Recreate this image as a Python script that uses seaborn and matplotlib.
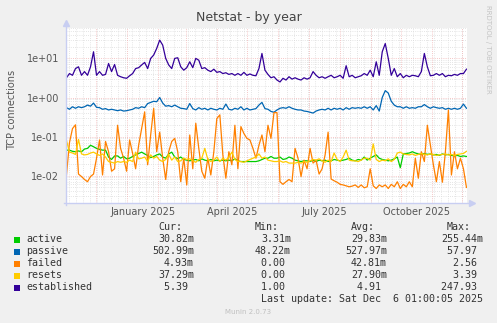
import numpy as np
import pandas as pd
import matplotlib
matplotlib.use('Agg')
import matplotlib.pyplot as plt
from matplotlib.patches import Rectangle
from matplotlib.lines import Line2D
from matplotlib.ticker import FixedLocator, LogLocator, NullFormatter
import seaborn as sns

# ---------------- data ----------------
dates = pd.date_range('2024-11-01 12:00', periods=134, freq='3D')

established = [3.2, 4.1, 3.7, 5.5, 6.1, 3.7, 4.6, 3.7, 6.1, 14.8, 3.7, 4.6, 3.7, 3.9, 7.4,
               4.6, 7.0, 3.7, 3.4, 3.2, 3.1, 3.6, 4.1, 5.5, 5.8, 6.8, 7.9, 5.5, 10.0, 12.2,
               18.0, 29.4, 21.9, 10.0,
               6.8, 5.5, 10.0, 10.4, 6.1, 5.0, 5.8, 8.2, 5.8, 10.0, 9.0, 5.5, 5.8, 5.0, 4.6,
               5.3, 4.4, 4.6, 4.1, 4.3, 3.9, 4.1, 3.7, 4.1, 3.7, 4.4, 3.7, 4.0, 3.7, 3.6,
               5.5, 13.4, 5.0,
               3.9, 3.2, 3.4, 2.8, 2.5, 3.1, 2.8, 3.4, 2.95, 3.2, 2.95, 2.8, 3.2, 2.95, 3.2,
               4.6, 3.7, 3.2, 3.4, 3.1, 3.4, 3.7, 3.2, 3.4, 3.7, 3.1, 6.5, 3.4, 3.7, 3.2,
               3.4, 3.6, 4.1,
               3.7, 5.0, 3.4, 8.2, 3.7, 14.8, 24.0, 10.0, 3.7, 5.5, 3.4, 4.1, 3.2, 3.7, 3.4,
               3.7, 3.6, 3.4, 4.6, 13.4, 6.1, 3.6, 3.7, 4.1, 3.7, 4.1, 3.4, 3.7, 3.6, 3.9,
               3.7, 4.1, 4.1, 5.3]

passive = [0.55, 0.5, 0.58, 0.53, 0.58, 0.55, 0.58, 0.64, 0.6, 0.72, 0.56, 0.55, 0.5, 0.52, 0.48,
           0.5, 0.48, 0.46, 0.48, 0.45, 0.46, 0.48, 0.5, 0.55, 0.53, 0.58, 0.55, 0.7, 0.75, 0.8,
           0.78, 1.0, 0.72, 0.6,
           0.62, 0.58, 0.64, 0.58, 0.53, 0.52, 0.5, 0.7, 0.52, 0.48, 0.55, 0.5, 0.53, 0.48, 0.53,
           0.5, 0.48, 0.53, 0.5, 0.68, 0.5, 0.48, 0.53, 0.5, 0.58, 0.48, 0.53, 0.48, 0.5, 0.52,
           0.64, 0.75, 0.52,
           0.5, 0.44, 0.42, 0.48, 0.53, 0.55, 0.53, 0.58, 0.53, 0.5, 0.48, 0.48, 0.45, 0.44, 0.42,
           0.4, 0.45, 0.48, 0.5, 0.48, 0.53, 0.48, 0.53, 0.5, 0.53, 0.48, 0.55, 0.5, 0.55, 0.53,
           0.55, 0.53, 0.58,
           0.53, 0.58, 0.48, 0.62, 0.45, 1.0, 1.5, 1.3, 0.8, 0.64, 0.58, 0.58, 0.53, 0.58, 0.53,
           0.55, 0.53, 0.58, 0.58, 0.66, 0.58, 0.53, 0.58, 0.55, 0.53, 0.55, 0.5, 0.53, 0.5, 0.53,
           0.5, 0.53, 0.68, 0.53]

active = [0.045, 0.045, 0.042, 0.041, 0.043, 0.041, 0.048, 0.05, 0.06, 0.055, 0.05, 0.047, 0.045,
          0.045, 0.03, 0.026, 0.032, 0.032, 0.028, 0.031, 0.027, 0.028, 0.031, 0.034, 0.037,
          0.04, 0.036, 0.033, 0.029, 0.031, 0.034, 0.036, 0.03, 0.028,
          0.036, 0.04, 0.03, 0.027, 0.03, 0.026, 0.025, 0.024, 0.025, 0.026, 0.024, 0.027, 0.025,
          0.024, 0.026, 0.024, 0.025, 0.024, 0.025, 0.024, 0.025, 0.024, 0.027, 0.024, 0.023,
          0.023, 0.023, 0.023, 0.023, 0.023, 0.024, 0.026, 0.028,
          0.028, 0.031, 0.028, 0.028, 0.03, 0.026, 0.027, 0.03, 0.028, 0.025, 0.024, 0.023, 0.024,
          0.024, 0.023, 0.025, 0.023, 0.025, 0.024, 0.025, 0.023, 0.024, 0.026, 0.025, 0.024,
          0.025, 0.026, 0.028, 0.025, 0.024, 0.026, 0.025, 0.03,
          0.025, 0.028, 0.031, 0.034, 0.028, 0.026, 0.025, 0.024, 0.025, 0.027, 0.03, 0.016,
          0.036, 0.037, 0.038, 0.041, 0.038, 0.036, 0.035, 0.037, 0.035, 0.036, 0.034, 0.035,
          0.033, 0.036, 0.034, 0.035, 0.033, 0.032, 0.033, 0.031, 0.032, 0.031]

resets = [0.08, 0.04, 0.038, 0.035, 0.085, 0.036, 0.034, 0.035, 0.038, 0.04, 0.036, 0.033, 0.036,
          0.03, 0.023, 0.022, 0.021, 0.023, 0.022, 0.023, 0.022, 0.025, 0.023, 0.04, 0.027,
          0.028, 0.03, 0.023, 0.034, 0.028, 0.031, 0.025, 0.023, 0.026,
          0.035, 0.025, 0.03, 0.023, 0.024, 0.028, 0.026, 0.027, 0.024, 0.022, 0.026, 0.028, 0.05,
          0.026, 0.023, 0.025, 0.03, 0.023, 0.028, 0.025, 0.03, 0.04, 0.026, 0.023, 0.023,
          0.022, 0.024, 0.026, 0.028, 0.03, 0.036, 0.028, 0.03,
          0.025, 0.024, 0.023, 0.023, 0.024, 0.022, 0.023, 0.021, 0.021, 0.021, 0.022, 0.021,
          0.023, 0.022, 0.024, 0.026, 0.025, 0.027, 0.024, 0.022, 0.025, 0.023, 0.038, 0.026,
          0.023, 0.03, 0.045, 0.025, 0.024, 0.024, 0.023, 0.025, 0.028,
          0.028, 0.025, 0.065, 0.026, 0.023, 0.025, 0.024, 0.027, 0.023, 0.026, 0.038, 0.04,
          0.036, 0.035, 0.034, 0.036, 0.033, 0.035, 0.037, 0.035, 0.034, 0.036, 0.035, 0.033,
          0.034, 0.035, 0.036, 0.034, 0.035, 0.033, 0.035, 0.036, 0.037, 0.042]

failed = [0.0104, 0.07, 0.16, 0.2, 0.011, 0.0095, 0.008, 0.007, 0.0095, 0.011, 0.028, 0.082,
          0.0104, 0.075, 0.041, 0.013, 0.015, 0.195, 0.05, 0.028, 0.013, 0.082, 0.037, 0.015,
          0.06, 0.16, 0.43, 0.019, 0.11, 0.53, 0.041, 0.13, 0.028, 0.008,
          0.041, 0.075, 0.09, 0.041, 0.007, 0.028, 0.0058, 0.11, 0.015, 0.22, 0.05, 0.013,
          0.0086, 0.028, 0.0104, 0.041, 0.29, 0.36, 0.034, 0.0086, 0.041, 0.019, 0.195, 0.015,
          0.18, 0.12, 0.09, 0.082, 0.05, 0.028, 0.06, 0.11, 0.041,
          0.195, 0.09, 0.41, 0.41, 0.007, 0.006, 0.007, 0.008, 0.007, 0.05, 0.028, 0.0095,
          0.025, 0.015, 0.05, 0.021, 0.025, 0.011, 0.015, 0.034, 0.13, 0.0082, 0.0074, 0.0068,
          0.006, 0.0058, 0.0055, 0.0052, 0.0054, 0.0058, 0.005, 0.0058, 0.0049,
          0.0052, 0.015, 0.0055, 0.0047, 0.0058, 0.0052, 0.0058, 0.0047, 0.006, 0.0052, 0.007,
          0.0047, 0.006, 0.0052, 0.007, 0.0052, 0.028, 0.0086, 0.041, 0.023, 0.195, 0.06,
          0.019, 0.007, 0.023, 0.0068, 0.041, 0.48, 0.0104, 0.041, 0.015, 0.028, 0.015, 0.005]

series_names = ['active', 'passive', 'failed', 'resets', 'established']
series_colors = ['#00CC00', '#0066B3', '#FF8000', '#FFCC00', '#330099']
cur_vals = ['30.82m', '502.99m', '4.93m', '37.29m', '5.39 ']
min_vals = ['3.31m', '48.22m', '0.00 ', '0.00 ', '1.00 ']
avg_vals = ['29.83m', '527.97m', '42.81m', '27.90m', '4.91 ']
max_vals = ['255.44m', '57.97 ', '2.56 ', '3.39 ', '247.93 ']
col_headers = ['Cur:', 'Min:', 'Avg:', 'Max:']

month_labels = ['January 2025', 'April 2025', 'July 2025', 'October 2025']
month_label_pos = ['2025-01-16 12:00', '2025-04-16 00:00', '2025-07-16 12:00', '2025-10-16 12:00']
ytick_vals = [0.01, 0.1, 1, 10]
ytick_labels = ['1e-02', '1e-01', '1e+00', '1e+01']

x_start = pd.Timestamp('2024-11-01 01:00')
x_end = pd.Timestamp('2025-12-06 01:00')

# ---------------- figure ----------------
W, H = 497, 323
BG = '#F0F0F0'
fig = plt.figure(figsize=(W / 100, H / 100), dpi=100, facecolor=BG)


def fx(px):
    return px / W


def fy(py):
    return 1 - py / H


ax = fig.add_axes([fx(66), fy(203), (467 - 66) / W, (203 - 28) / H])
ax.set_facecolor('white')

df = pd.DataFrame({
    'date': np.tile(dates, len(series_names)),
    'value': np.concatenate([active, passive, failed, resets, established]),
    'series': np.repeat(series_names, len(dates)),
})

sns.lineplot(data=df, x='date', y='value', hue='series', hue_order=series_names,
             palette=dict(zip(series_names, series_colors)), linewidth=0.9,
             estimator=None, legend=False, ax=ax, zorder=3)

ax.set_yscale('log')
ax.set_ylim(0.002, 60)
ax.set_xlim(x_start, x_end)

# y grid
ax.yaxis.set_major_locator(FixedLocator(ytick_vals))
ax.set_yticklabels(ytick_labels)
ax.yaxis.set_minor_locator(LogLocator(base=10, subs=range(2, 10)))
ax.yaxis.set_minor_formatter(NullFormatter())
dot = (0, (1, 1.6))
grey = '#DCDCDC'
red = '#F2B4B4'
ax.grid(axis='y', which='minor', color=grey, linestyle=dot, linewidth=0.6, zorder=1)
ax.grid(axis='y', which='major', color=red, linestyle=dot, linewidth=0.6, zorder=1)
ax.set_axisbelow(True)

# x grid (weekly grey, monthly red)
for d in pd.date_range('2024-11-04', x_end, freq='W-MON'):
    ax.axvline(d, color=grey, linestyle=dot, linewidth=0.6, zorder=1)
for d in pd.date_range('2024-12-01', x_end, freq='MS'):
    ax.axvline(d, color=red, linestyle=dot, linewidth=0.6, zorder=1.5)

ax.set_xticks(pd.to_datetime(month_label_pos))
ax.set_xticklabels(month_labels)
ax.tick_params(axis='both', which='both', length=0, labelsize=7, labelcolor='#555555')
ax.tick_params(axis='y', pad=5)
ax.tick_params(axis='x', pad=3)
ax.set_xlabel('')
ax.set_ylabel('')

for s in ax.spines.values():
    s.set_visible(False)

# axis lines with arrows
axis_col = '#C8CEF2'
fig.add_artist(Line2D([fx(64), fx(470)], [fy(203), fy(203)], color=axis_col, lw=1.0))
fig.add_artist(Line2D([fx(66), fx(66)], [fy(205), fy(24)], color=axis_col, lw=1.0))
fig.add_artist(Line2D([fx(472)], [fy(203)], marker='>', markersize=4.5, color=axis_col, lw=0))
fig.add_artist(Line2D([fx(66)], [fy(23)], marker='^', markersize=4.5, color=axis_col, lw=0))

# titles
fig.text(fx(248.5), fy(17), 'Netstat - by year', ha='center', va='center', fontsize=9, color='#444444')
fig.text(fx(12), fy(110), 'TCP connections', ha='center', va='center', rotation=90,
         fontsize=7, color='#555555')
fig.text(fx(488), fy(5), 'RRDTOOL / TOBI OETIKER', ha='center', va='top', rotation=270,
         fontsize=5, color='#C4C4C4')

# legend block
mono = 'DejaVu Sans Mono'
fs = 7.2
tcol = '#333333'
col_right = [194, 291, 387, 483]
for hdr, r in zip(col_headers, col_right):
    fig.text(fx(r - 12), fy(227), hdr, ha='right', va='center', family=mono, fontsize=fs, color=tcol)

row_y = [239.5, 251.5, 263.5, 275.5, 287.5]
for i, name in enumerate(series_names):
    y = row_y[i]
    fig.add_artist(Rectangle((fx(14), fy(y + 3)), 6 / W, 6 / H, facecolor=series_colors[i],
                             edgecolor='none'))
    fig.text(fx(26), fy(y), name, ha='left', va='center', family=mono, fontsize=fs, color=tcol)
    for vals, r in zip([cur_vals, min_vals, avg_vals, max_vals], col_right):
        fig.text(fx(r), fy(y), vals[i], ha='right', va='center', family=mono, fontsize=fs, color=tcol)

fig.text(fx(483), fy(299.5), 'Last update: Sat Dec  6 01:00:05 2025', ha='right', va='center',
         family=mono, fontsize=fs, color=tcol)
fig.text(fx(248.5), fy(312), 'Munin 2.0.73', ha='center', va='center', fontsize=5, color='#C0C0C0')

fig.savefig('out.png', dpi=100, facecolor=BG)
